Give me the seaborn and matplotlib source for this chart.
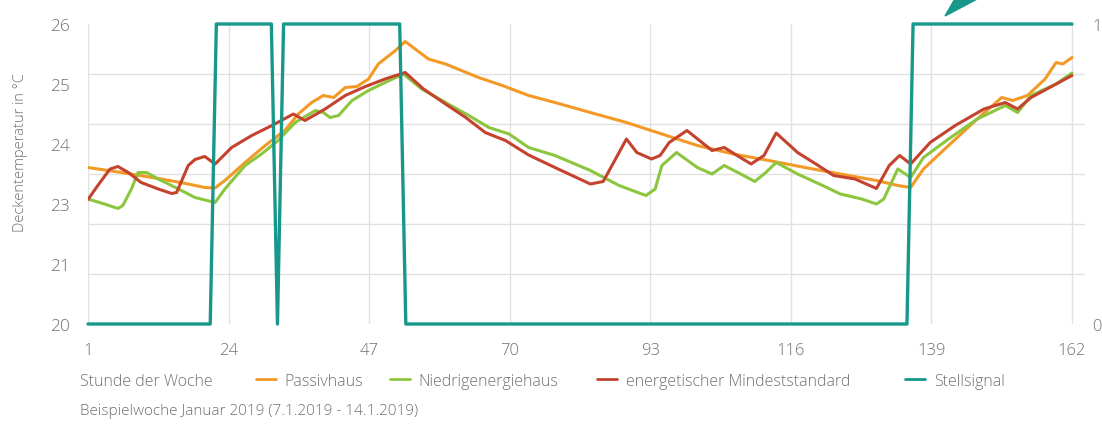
import numpy as np
import pandas as pd
import matplotlib.pyplot as plt
import matplotlib.patches as mpatches
from matplotlib.lines import Line2D
import seaborn as sns

# Werte (Stunde der Woche -> Deckentemperatur in °C)
passiv_h = [1, 6.5, 13, 17.4, 20.1, 21.8, 22.3, 23.4, 26.7, 30,
            33.2, 35.4, 37.6, 39.5, 41.2, 43.1, 45, 46.9, 48.5, 51.3,
            52.9, 56.7, 59.5, 64.9, 68.8, 73.1, 77.4, 83.2, 89.1, 94.9,
            100.7, 106.6, 112.4, 118.3, 124.1, 130, 133.5, 135.6, 137.7, 141.8,
            146.5, 150.5, 152.3, 154.7, 157.6, 159.4, 160.5, 162]
passiv_t = [23.13, 23.03, 22.90, 22.80, 22.73, 22.72, 22.77, 22.87, 23.23, 23.57,
            23.87, 24.20, 24.43, 24.57, 24.53, 24.73, 24.75, 24.90, 25.20, 25.47,
            25.65, 25.30, 25.20, 24.93, 24.77, 24.57, 24.43, 24.23, 24.03, 23.80,
            23.57, 23.40, 23.27, 23.13, 23.00, 22.87, 22.77, 22.73, 23.10, 23.57,
            24.10, 24.53, 24.47, 24.57, 24.90, 25.23, 25.20, 25.33]

niedrig_h = [1, 3.7, 5.9, 6.7, 8.1, 9.2, 10.6, 12.5, 15.8, 18.5,
             21.8, 23.4, 26.7, 29.4, 32.1, 34.9, 38.2, 39.5, 40.6, 42,
             44.2, 46.9, 49.6, 52.6, 55.6, 59.5, 63.3, 66.6, 69.9, 73.1,
             77.4, 83.2, 87.9, 92.3, 93.8, 94.9, 97.3, 100.7, 103.1, 105.1,
             107.8, 110.1, 111.9, 113.6, 117.1, 121.2, 124.1, 127.6, 130, 131.2,
             133.5, 135.6, 137.7, 141.8, 146.5, 151.1, 153.1, 155.3, 159.4, 162]
niedrig_t = [22.50, 22.40, 22.31, 22.37, 22.70, 23.03, 23.03, 22.90, 22.70, 22.53,
             22.43, 22.70, 23.17, 23.40, 23.67, 24.03, 24.27, 24.23, 24.13, 24.17,
             24.47, 24.67, 24.83, 25.00, 24.70, 24.43, 24.17, 23.93, 23.80, 23.53,
             23.37, 23.07, 22.77, 22.57, 22.70, 23.17, 23.43, 23.13, 23.00, 23.17,
             23.00, 22.85, 23.03, 23.23, 23.00, 22.77, 22.60, 22.50, 22.40, 22.50,
             23.10, 22.93, 23.33, 23.70, 24.10, 24.37, 24.23, 24.57, 24.80, 25.02]

mindest_h = [1, 2.6, 4.6, 5.9, 7.6, 9.7, 12.5, 14.7, 15.5, 17.4,
             18.5, 20.1, 21.8, 24.5, 27.8, 31.1, 34.6, 36.5, 39.8, 43.1,
             46.4, 49.6, 52.9, 55.9, 59.5, 62.8, 66, 69.3, 73.1, 77.4,
             83.2, 85.3, 89.1, 90.8, 93.2, 94.6, 96.1, 99, 103.1, 105.1,
             107.2, 109.5, 111.6, 113.6, 117.1, 120.1, 123, 126.5, 130, 132.1,
             133.8, 135.6, 138.8, 142.9, 147.6, 151.1, 153.1, 155.3, 162]
mindest_t = [22.49, 22.77, 23.10, 23.15, 23.03, 22.83, 22.70, 22.61, 22.63, 23.17,
             23.29, 23.35, 23.20, 23.53, 23.77, 23.97, 24.20, 24.07, 24.30, 24.57,
             24.75, 24.90, 25.03, 24.70, 24.40, 24.13, 23.83, 23.67, 23.38, 23.13,
             22.80, 22.85, 23.70, 23.43, 23.30, 23.37, 23.63, 23.87, 23.47, 23.53,
             23.37, 23.20, 23.37, 23.82, 23.43, 23.20, 22.97, 22.90, 22.71, 23.17,
             23.37, 23.20, 23.63, 23.97, 24.30, 24.43, 24.30, 24.53, 24.97]

# Stellsignal (0/1)
signal_h = [1, 21, 22, 31, 32, 33, 52, 53, 135, 136, 162]
signal_v = [0, 0, 1, 1, 0, 1, 1, 0, 0, 1, 1]

series_names = ["Passivhaus", "Niedrigenergiehaus", "energetischer Mindeststandard"]
signal_name = "Stellsignal"
x_ticks = [1, 24, 47, 70, 93, 116, 139, 162]
y_labels = ["20", "21", "23", "24", "25", "26"]
y2_labels = ["0", "1"]

colors = {"Passivhaus": "#f39a26", "Niedrigenergiehaus": "#8cc63e",
          "energetischer Mindeststandard": "#c4432f"}
teal = "#17988a"
grey = "#707070"
gridc = "#e1e1e1"

df = pd.concat([
    pd.DataFrame({"Stunde": passiv_h, "Temperatur": passiv_t, "Gebaeude": series_names[0]}),
    pd.DataFrame({"Stunde": niedrig_h, "Temperatur": niedrig_t, "Gebaeude": series_names[1]}),
    pd.DataFrame({"Stunde": mindest_h, "Temperatur": mindest_t, "Gebaeude": series_names[2]}),
], ignore_index=True)

sns.set_style("white")
plt.rcParams['font.family'] = ['Open Sans', 'DejaVu Sans']
plt.rcParams['font.weight'] = 'light'

W, H = 1102, 427
fig = plt.figure(figsize=(W / 100, H / 100), dpi=100)
ax = fig.add_axes([88 / W, 1 - 325 / H, (1085 - 88) / W, 300 / H])

sns.lineplot(data=df, x="Stunde", y="Temperatur", hue="Gebaeude", palette=colors,
             estimator=None, linewidth=2.2, ax=ax, legend=False)

ax.set_xlim(1, 164.13)
ax.set_ylim(20, 26)
ax.set_xticks(x_ticks)
ax.set_xticklabels([str(t) for t in x_ticks])
ax.set_yticks(range(20, 27), minor=True)
ax.set_yticks(np.linspace(20, 26, len(y_labels)))
ax.set_yticklabels(y_labels)
ax.grid(False)
ax.grid(True, axis="x", which="major", color=gridc, lw=1)
ax.grid(True, axis="y", which="minor", color=gridc, lw=1)
ax.set_axisbelow(True)
ax.tick_params(axis="y", which="both", length=0, pad=13, labelsize=12.5, labelcolor=grey)
ax.tick_params(axis="x", length=12, color=gridc, width=1, pad=1, labelsize=12, labelcolor=grey)
ax.set_xlabel("")
ax.set_ylabel("")
for s in ax.spines.values():
    s.set_visible(False)

ax2 = ax.twinx()
sns.lineplot(x=signal_h, y=signal_v, color=teal, linewidth=2.4, ax=ax2)
for ln in ax2.lines:
    ln.set_clip_on(False)
ax2.set_ylim(0, 1)
ax2.set_yticks([0, 1])
ax2.set_yticklabels(y2_labels)
ax2.tick_params(axis="y", length=0, pad=5, labelsize=12, labelcolor=grey)
for s in ax2.spines.values():
    s.set_visible(False)

fig.text(21 / W, 1 - 153 / H, "Deckentemperatur in °C", rotation=90,
         ha="center", va="center", fontsize=10.5, color=grey)
fig.text(80 / W, 1 - 382 / H, "Stunde der Woche", ha="left", va="center",
         fontsize=11.5, color=grey)
fig.text(80 / W, 1 - 412 / H, "Beispielwoche Januar 2019 (7.1.2019 - 14.1.2019)",
         ha="left", va="center", fontsize=11, color=grey)

# Legende: jeder Eintrag an seiner Stelle
legend_x = [256, 390, 597, 905]
legend_colors = [colors[n] for n in series_names] + [teal]
for lx, name, c in zip(legend_x, series_names + [signal_name], legend_colors):
    fig.legend([Line2D([], [], color=c, lw=2)], [name], loc="center left",
               bbox_to_anchor=(lx / W, 1 - 382 / H), frameon=False,
               handlelength=1.25, handletextpad=0.55, borderpad=0,
               borderaxespad=0, fontsize=11.5, labelcolor=grey)

# Pfeilspitze oben (abgeschnitten)
arrow = mpatches.Polygon([(945 / W, 1 - 17 / H), (956 / W, 1 + 2 / H), (981 / W, 1 + 2 / H)],
                         closed=True, transform=fig.transFigure, color=teal, clip_on=False)
fig.patches.append(arrow)

fig.savefig("out.png", dpi=100)
